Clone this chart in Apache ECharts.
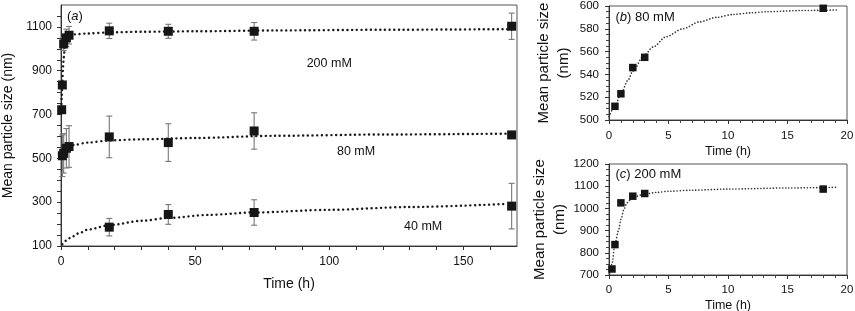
<!DOCTYPE html>
<html><head><meta charset="utf-8">
<script src="https://cdn.jsdelivr.net/npm/echarts@6/dist/echarts.min.js"></script>
<style>html,body{margin:0;padding:0;background:#fff}#c{width:855px;height:311px}</style>
</head><body><div id="c"></div>
<script>
// ---------- Panel (a): all concentrations, full time range ----------
const t200 = [0.25, 0.5, 1, 2, 3, 18, 40, 72, 168];
const s200 = [722, 835, 1022, 1050, 1062, 1082, 1080, 1080, 1103];
const e200 = [0, 0, 30, 40, 40, 35, 32, 40, 60];

const t80 = [0.5, 1, 2, 3, 18, 40, 72, 168];
const s80 = [512, 523, 546, 554, 598, 572, 625, 607];
const e80 = [95, 90, 90, 95, 95, 86, 83, 0];

const t40 = [18, 40, 72, 168];
const s40 = [186, 244, 253, 282];
const e40 = [40, 45, 58, 104];

// fitted curves
const fit200T = [0.1, 0.3, 0.5, 0.8, 1, 1.5, 2, 3, 5, 10, 18, 30, 50, 80, 120, 168];
const fit200V = [705, 790, 850, 920, 960, 1015, 1040, 1058, 1066, 1070, 1075, 1078, 1080, 1084, 1087, 1090];
const fit80T = [0, 0.5, 1, 2, 3, 5, 10, 18, 30, 50, 80, 120, 168];
const fit80V = [500, 510, 522, 540, 553, 562, 572, 582, 587, 593, 603, 609, 613];
const fit40T = [0.5, 2, 4, 7, 10, 18, 30, 40, 55, 72, 100, 130, 166];
const fit40V = [108, 125, 142, 160, 175, 195, 215, 228, 242, 253, 265, 278, 292];

// ---------- Panel (b): 80 mM, first 20 h ----------
const tB = [0.5, 1, 2, 3, 18];
const sB = [512, 523, 546, 555, 598];
const fitBT = [0, 0.5, 1, 1.6, 2, 2.9, 3.7, 4.8, 6.2, 7.6, 9, 10.4, 11.9, 13.3, 16.1, 19.2];
const fitBV = [503, 512, 523, 535, 543, 556, 564, 573, 580, 586, 590, 592.5, 594, 595, 596, 596.5];

// ---------- Panel (c): 200 mM, first 20 h ----------
const tC = [0.25, 0.5, 1, 2, 3, 18];
const sC = [727, 837, 1025, 1055, 1067, 1087];
const fitCT = [0.05, 0.25, 0.5, 0.8, 1, 1.25, 1.5, 2, 3, 4, 5, 7, 10, 15, 19.2];
const fitCV = [705, 750, 840, 900, 950, 995, 1025, 1050, 1065, 1072, 1077, 1082, 1087, 1092, 1095];

// tick labels
const ticksAX = [0, 50, 100, 150];
const ticksAY = [100, 300, 500, 700, 900, 1100];

const FONT = 'Liberation Sans, Arial, sans-serif';
const TXT = '#111';
const zip = (a, b) => a.map((v, i) => [v, b[i]]);

function errBars(xs, ys, es, gi) {
  const data = [];
  xs.forEach((x, i) => { if (es[i] > 0) data.push([x, ys[i] - es[i], ys[i] + es[i]]); });
  return {
    type: 'custom', xAxisIndex: gi, yAxisIndex: gi, data: data, z: 2,
    encode: { x: 0, y: [1, 2] },
    renderItem: function (params, api) {
      const x = api.value(0);
      const lo = api.coord([x, api.value(1)]);
      const hi = api.coord([x, api.value(2)]);
      const w = 3;
      const st = { stroke: '#777', lineWidth: 1.1 };
      return { type: 'group', children: [
        { type: 'line', shape: { x1: lo[0], y1: lo[1], x2: hi[0], y2: hi[1] }, style: st },
        { type: 'line', shape: { x1: lo[0] - w, y1: lo[1], x2: lo[0] + w, y2: lo[1] }, style: st },
        { type: 'line', shape: { x1: hi[0] - w, y1: hi[1], x2: hi[0] + w, y2: hi[1] }, style: st }
      ] };
    }
  };
}
function pts(xs, ys, gi, size) {
  return { type: 'scatter', xAxisIndex: gi, yAxisIndex: gi, data: zip(xs, ys), symbol: 'rect',
    symbolSize: size, itemStyle: { color: '#161616', opacity: 1 }, z: 5, silent: true };
}
function fit(xs, ys, gi, big) {
  return { type: 'line', xAxisIndex: gi, yAxisIndex: gi, data: zip(xs, ys), showSymbol: false,
    smooth: 0.3, smoothMonotone: 'x', z: 3, silent: true,
    lineStyle: big ? { color: '#1a1a1a', width: 2.4, type: [0.1, 4.6], cap: 'round' }
                   : { color: '#333', width: 1.6, type: [0.1, 3.0], cap: 'round' } };
}
function note(x, y, text, gi, align, size) {
  return { type: 'scatter', xAxisIndex: gi, yAxisIndex: gi, data: [[x, y]], symbolSize: 0, silent: true, z: 6,
    itemStyle: { opacity: 1 },
    label: { show: true, position: 'inside', formatter: text, align: align || 'center', verticalAlign: 'middle',
      color: TXT, fontFamily: FONT, fontSize: size || 12.5, opacity: 1,
      rich: { i: { fontStyle: 'italic', fontFamily: FONT, fontSize: size || 12.5, color: TXT } } } };
}

const axLine = { show: true, lineStyle: { color: '#333', width: 1 } };
const lab = (fs, m) => ({ color: TXT, fontFamily: FONT, fontSize: fs, margin: m, formatter: v => String(v) });
const gridBase = { show: true, borderColor: '#555', borderWidth: 1, containLabel: false, outerBoundsMode: 'none' };

const option = {
  animation: false,
  backgroundColor: '#fff',
  grid: [
    Object.assign({ left: 61, top: 5, width: 456, height: 241 }, gridBase),
    Object.assign({ left: 609, top: 6, width: 238, height: 114 }, gridBase),
    Object.assign({ left: 609, top: 164, width: 238, height: 111 }, gridBase)
  ],
  xAxis: [
    { gridIndex: 0, type: 'value', min: 0, max: 170, interval: 10, splitLine: { show: false },
      axisLine: axLine, axisTick: { length: 4, lineStyle: { color: '#333' } },
      axisLabel: Object.assign(lab(12, 10), { showMaxLabel: false,
        formatter: v => ticksAX.includes(v) ? String(v) : '' }),
      name: 'Time (h)', nameLocation: 'middle', nameGap: 31,
      nameTextStyle: { color: TXT, fontFamily: FONT, fontSize: 14 } },
    { gridIndex: 1, type: 'value', min: 0, max: 20, interval: 5, splitLine: { show: false },
      axisLine: axLine, axisTick: { length: 4, lineStyle: { color: '#333' } },
      minorTick: { show: true, splitNumber: 5, length: 3, lineStyle: { color: '#444' } },
      axisLabel: lab(11.5, 10),
      name: 'Time (h)', nameLocation: 'middle', nameGap: 25,
      nameTextStyle: { color: TXT, fontFamily: FONT, fontSize: 12.5 } },
    { gridIndex: 2, type: 'value', min: 0, max: 20, interval: 5, splitLine: { show: false },
      axisLine: axLine, axisTick: { length: 4, lineStyle: { color: '#333' } },
      minorTick: { show: true, splitNumber: 5, length: 3, lineStyle: { color: '#444' } },
      axisLabel: lab(11.5, 9),
      name: 'Time (h)', nameLocation: 'middle', nameGap: 24,
      nameTextStyle: { color: TXT, fontFamily: FONT, fontSize: 12.5 } }
  ],
  yAxis: [
    { gridIndex: 0, type: 'value', min: 100, max: 1200, interval: 50, splitLine: { show: false },
      axisLine: axLine, axisTick: { length: 4, lineStyle: { color: '#333' } },
      axisLabel: Object.assign(lab(12, 9), { showMaxLabel: false,
        formatter: v => ticksAY.includes(v) ? String(v) : '' }),
      name: 'Mean particle size (nm)', nameLocation: 'middle', nameGap: 43,
      nameTextStyle: { color: TXT, fontFamily: FONT, fontSize: 14 } },
    { gridIndex: 1, type: 'value', min: 500, max: 600, interval: 20, splitLine: { show: false },
      axisLine: axLine, axisTick: { length: 4, lineStyle: { color: '#333' } },
      minorTick: { show: true, splitNumber: 4, length: 3, lineStyle: { color: '#444' } },
      axisLabel: lab(11.5, 10),
      name: 'Mean particle size\n(nm)', nameLocation: 'middle', nameGap: 35,
      nameTextStyle: { color: TXT, fontFamily: FONT, fontSize: 15, lineHeight: 20 } },
    { gridIndex: 2, type: 'value', min: 700, max: 1200, interval: 100, splitLine: { show: false },
      axisLine: axLine, axisTick: { length: 4, lineStyle: { color: '#333' } },
      minorTick: { show: true, splitNumber: 4, length: 3, lineStyle: { color: '#444' } },
      axisLabel: lab(11.5, 10),
      name: 'Mean particle size\n(nm)', nameLocation: 'middle', nameGap: 35,
      nameTextStyle: { color: TXT, fontFamily: FONT, fontSize: 15, lineHeight: 20 } }
  ],
  series: [
    fit(fit200T, fit200V, 0, true),
    fit(fit80T, fit80V, 0, true),
    fit(fit40T, fit40V, 0, true),
    errBars(t200, s200, e200, 0),
    errBars(t80, s80, e80, 0),
    errBars(t40, s40, e40, 0),
    pts(t200, s200, 0, 9),
    pts(t80, s80, 0, 9),
    pts(t40, s40, 0, 9),
    note(100, 934, '200 mM', 0),
    note(110, 533, '80 mM', 0),
    note(135, 191, '40 mM', 0),
    note(2.2, 1149, '({i|a})', 0, 'left', 13),

    fit(fitBT, fitBV, 1, false),
    pts(tB, sB, 1, 7.5),
    note(0.55, 590, '({i|b}) 80 mM', 1, 'left', 13),

    fit(fitCT, fitCV, 2, false),
    pts(tC, sC, 2, 7.5),
    note(0.55, 1155, '({i|c}) 200 mM', 2, 'left', 13)
  ]
};
const chart = echarts.init(document.getElementById('c'), null, { renderer: 'canvas' });
chart.setOption(option);
</script>
</body></html>
